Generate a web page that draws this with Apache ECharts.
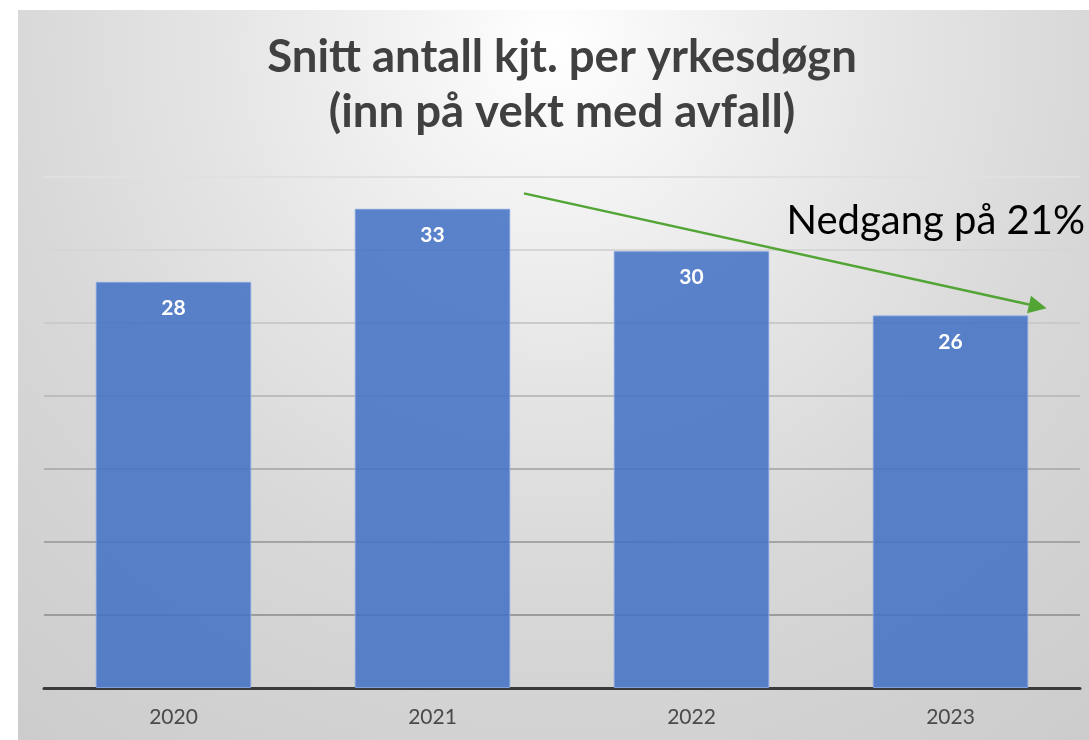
<!DOCTYPE html>
<html>
<head>
<meta charset="utf-8">
<script src="https://cdn.jsdelivr.net/npm/echarts@6/dist/echarts.min.js"></script>
<style>
  html, body { margin: 0; padding: 0; background: #ffffff; }
  #chart { position: absolute; left: 18px; top: 10px; width: 1071px; height: 730px; }
</style>
</head>
<body>
<div id="chart"></div>
<script>
// ---- data ----
const categories = ['2020', '2021', '2022', '2023'];
const values = [27.8, 32.8, 29.9, 25.5];
const yTicks = { min: 0, max: 35, interval: 5 };
const titleLines = ['Snitt antall kjt. per yrkesdøgn', '(inn på vekt med avfall)'];
const annotationText = 'Nedgang på 21%';
// trend arrow endpoints in data space: [category index, value]
const arrowFrom = [1.353, 33.86];
const arrowTo = [3.371, 25.99];

const gridColors = ['#9c9c9c', '#a4a4a4', '#b0b0b0', '#bdbdbd', '#cacaca', '#d6d6d6', '#e0e0e0'];

const chart = echarts.init(document.getElementById('chart'), null, { renderer: 'canvas' });

const option = {
  animation: false,
  backgroundColor: {
    type: 'radial', x: 0.5, y: 0.05, r: 1.2,
    colorStops: [
      { offset: 0, color: '#ffffff' },
      { offset: 0.15, color: '#f4f4f4' },
      { offset: 0.4, color: '#e4e4e4' },
      { offset: 0.62, color: '#d8d8d8' },
      { offset: 0.8, color: '#d2d2d2' },
      { offset: 1, color: '#cccccc' }
    ]
  },
  title: {
    text: titleLines.join('\n'),
    left: 544,
    top: 20,
    padding: 0,
    textAlign: 'center',
    textStyle: {
      fontFamily: 'Lato', fontWeight: 'bold', fontSize: 45.5,
      color: '#404040', lineHeight: 55
    }
  },
  grid: { left: 26, right: 9, top: 166.7, bottom: 52, containLabel: false },
  xAxis: {
    type: 'category',
    data: categories,
    axisLine: { show: true, lineStyle: { color: '#3a3a3a', width: 3 } },
    axisTick: { show: false },
    axisLabel: { fontFamily: 'Lato', fontSize: 21, color: '#4a4a4a', margin: 19 },
    splitLine: { show: false }
  },
  yAxis: {
    type: 'value',
    min: yTicks.min, max: yTicks.max, interval: yTicks.interval,
    axisLine: { show: false },
    axisTick: { show: false },
    axisLabel: { show: false },
    splitLine: { show: true, lineStyle: { color: ['rgba(0,0,0,0)'].concat(gridColors), width: 2 } }
  },
  series: [{
    type: 'bar',
    data: values,
    barWidth: '60%',
    itemStyle: { color: 'rgba(68,114,196,0.87)', borderColor: '#7e9fdc', borderWidth: 1 },
    label: {
      show: true, position: 'insideTop', distance: 16,
      formatter: p => String(Math.round(p.value)),
      fontFamily: 'Lato', fontWeight: 'bold', fontSize: 21, color: '#ffffff'
    },
    z: 3
  }]
};
chart.setOption(option);

function toPx(pt) {
  const p0 = chart.convertToPixel({ seriesIndex: 0 }, [0, pt[1]]);
  const p1 = chart.convertToPixel({ seriesIndex: 0 }, [1, pt[1]]);
  return [p0[0] + pt[0] * (p1[0] - p0[0]), p0[1]];
}
const a = toPx(arrowFrom), b = toPx(arrowTo);
const ang = Math.atan2(b[1] - a[1], b[0] - a[0]);
const headLen = 18, headW = 9;
const base = [b[0] - headLen * Math.cos(ang), b[1] - headLen * Math.sin(ang)];
const nx = -Math.sin(ang), ny = Math.cos(ang);
const green = '#52a535';

chart.setOption({
  graphic: [
    {
      type: 'line', z: 10,
      shape: { x1: a[0], y1: a[1], x2: base[0], y2: base[1] },
      style: { stroke: green, lineWidth: 2.5 }
    },
    {
      type: 'polygon', z: 10,
      shape: { points: [b, [base[0] + nx * headW, base[1] + ny * headW], [base[0] - nx * headW, base[1] - ny * headW]] },
      style: { fill: green }
    },
    {
      type: 'text', z: 10,
      x: 1067, y: 211,
      style: {
        text: annotationText, fontFamily: 'Lato', fontSize: 40, fill: '#000000',
        textAlign: 'right', textVerticalAlign: 'middle'
      }
    }
  ]
});
</script>
</body>
</html>
